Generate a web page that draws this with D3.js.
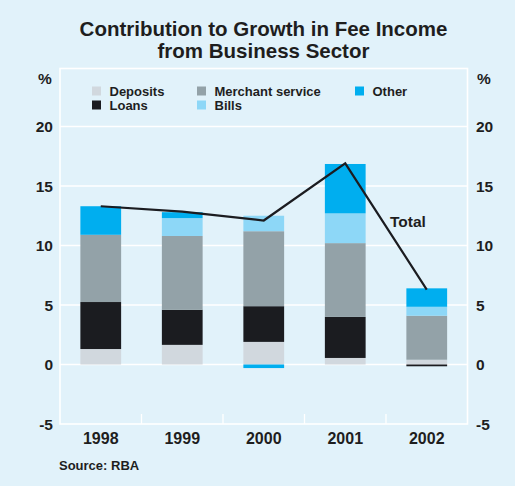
<!DOCTYPE html>
<html>
<head>
<meta charset="utf-8">
<script src="https://cdn.jsdelivr.net/npm/d3@7"></script>
<style>
  body { margin: 0; background: #e1f2fa; }
  svg text { font-family: "Liberation Sans", Arial, sans-serif; font-weight: bold; fill: #1e1e1e; }
</style>
</head>
<body>
<div id="chart"></div>
<script>
// data (percentage points)
let years = ["1998", "1999", "2000", "2001", "2002"];
let deposits = [1.3, 1.65, 1.9, 0.55, 0.4];
let loans = [3.95, 2.95, 3.0, 3.45, -0.15];
let merchant = [5.65, 6.2, 6.3, 6.2, 3.7];
let bills = [0, 1.5, 1.3, 2.5, 0.75];
let other = [2.4, 0.5, -0.3, 4.15, 1.55];
let total = [13.3, 12.85, 12.1, 16.9, 6.3];
let y_ticks = [-5, 0, 5, 10, 15, 20];

let series = [
    {name: "Deposits", values: deposits, color: "#d1d8de"},
    {name: "Loans", values: loans, color: "#1b1c20"},
    {name: "Merchant service", values: merchant, color: "#93a2a8"},
    {name: "Bills", values: bills, color: "#8dd7f7"},
    {name: "Other", values: other, color: "#00aeef"}
];

let w = 515, h = 486;
let svg = d3.select("#chart").append("svg")
    .attr("width", w)
    .attr("height", h);

svg.append("rect").attr("width", w).attr("height", h).attr("fill", "#e1f2fa");

let x = d3.scaleBand().domain(years).range([60, 467.5]).paddingInner(0).paddingOuter(0);
let y = d3.scaleLinear().domain([-5, 25]).range([424, 67]);

// gridlines
svg.append("g").selectAll("line")
    .data(y_ticks.filter(d => d > -5))
    .enter().append("line")
    .attr("x1", 60).attr("x2", 467.5)
    .attr("y1", d => y(d)).attr("y2", d => y(d))
    .attr("stroke", "#fff").attr("stroke-width", 1.3);

// stack: positives up from 0, negatives down from 0
let stacks = years.map(function (yr, i) {
    let pos = 0, neg = 0, segs = [];
    series.forEach(function (s) {
        let v = s.values[i];
        if (v >= 0) { segs.push({y0: pos, y1: pos + v, color: s.color}); pos += v; }
        else { segs.push({y0: neg + v, y1: neg, color: s.color}); neg += v; }
    });
    return {year: yr, segs: segs};
});

let bw = x.bandwidth() * 0.5;
let bars = svg.append("g").selectAll("g")
    .data(stacks)
    .enter().append("g")
    .attr("transform", d => "translate(" + (x(d.year) + x.bandwidth() / 2 - bw / 2) + ",0)");

bars.selectAll("rect")
    .data(d => d.segs.filter(s => s.y1 - s.y0 > 0))
    .enter().append("rect")
    .attr("x", 0)
    .attr("width", bw)
    .attr("y", d => y(d.y1))
    .attr("height", d => y(d.y0) - y(d.y1))
    .attr("fill", d => d.color);

// plot border
svg.append("rect")
    .attr("x", 60).attr("y", 68.5)
    .attr("width", 407.5).attr("height", 355.5)
    .attr("fill", "none").attr("stroke", "#fff").attr("stroke-width", 1.6);

// x ticks between categories
svg.append("g").selectAll("line")
    .data(years.slice(1))
    .enter().append("line")
    .attr("x1", d => x(d)).attr("x2", d => x(d))
    .attr("y1", 424).attr("y2", 414)
    .attr("stroke", "#fff").attr("stroke-width", 1.3);

// total line
let line = d3.line()
    .x((d, i) => x(years[i]) + x.bandwidth() / 2)
    .y(d => y(d));
svg.append("path")
    .datum(total)
    .attr("d", line)
    .attr("fill", "none")
    .attr("stroke", "#1b1c20")
    .attr("stroke-width", 2.2);

svg.append("text")
    .attr("x", 390).attr("y", 227)
    .style("font-size", "15.5px")
    .text("Total");

// y tick labels both sides
svg.append("g").selectAll("text")
    .data(y_ticks)
    .enter().append("text")
    .attr("x", 53).attr("y", d => y(d) + 5.7)
    .attr("text-anchor", "end")
    .style("font-size", "15.5px")
    .text(d => d);
svg.append("g").selectAll("text")
    .data(y_ticks)
    .enter().append("text")
    .attr("x", 476).attr("y", d => y(d) + 5.7)
    .attr("text-anchor", "start")
    .style("font-size", "15.5px")
    .text(d => d);

svg.append("text").attr("x", 45).attr("y", 84).attr("text-anchor", "middle")
    .style("font-size", "15.5px").text("%");
svg.append("text").attr("x", 484).attr("y", 84).attr("text-anchor", "middle")
    .style("font-size", "15.5px").text("%");

// x labels
svg.append("g").selectAll("text")
    .data(years)
    .enter().append("text")
    .attr("x", d => x(d) + x.bandwidth() / 2)
    .attr("y", 444)
    .attr("text-anchor", "middle")
    .style("font-size", "16px")
    .text(d => d);

// title
svg.append("text").attr("x", 263.5).attr("y", 36).attr("text-anchor", "middle")
    .style("font-size", "20.5px").text("Contribution to Growth in Fee Income");
svg.append("text").attr("x", 263.5).attr("y", 58).attr("text-anchor", "middle")
    .style("font-size", "20.5px").text("from Business Sector");

// legend
let legend_items = [
    {name: "Deposits", color: "#d1d8de", lx: 92, ly: 91},
    {name: "Loans", color: "#1b1c20", lx: 92, ly: 105},
    {name: "Merchant service", color: "#93a2a8", lx: 197, ly: 91},
    {name: "Bills", color: "#8dd7f7", lx: 197, ly: 105},
    {name: "Other", color: "#00aeef", lx: 355, ly: 91}
];
let lg = svg.append("g").selectAll("g")
    .data(legend_items)
    .enter().append("g")
    .attr("transform", d => "translate(" + d.lx + "," + d.ly + ")");
lg.append("rect").attr("x", 0).attr("y", -4.5).attr("width", 9).attr("height", 9)
    .attr("fill", d => d.color);
lg.append("text").attr("x", 17.5).attr("y", 4.5)
    .style("font-size", "13px")
    .text(d => d.name);

svg.append("text").attr("x", 59).attr("y", 470)
    .style("font-size", "13px").text("Source: RBA");
</script>
</body>
</html>
